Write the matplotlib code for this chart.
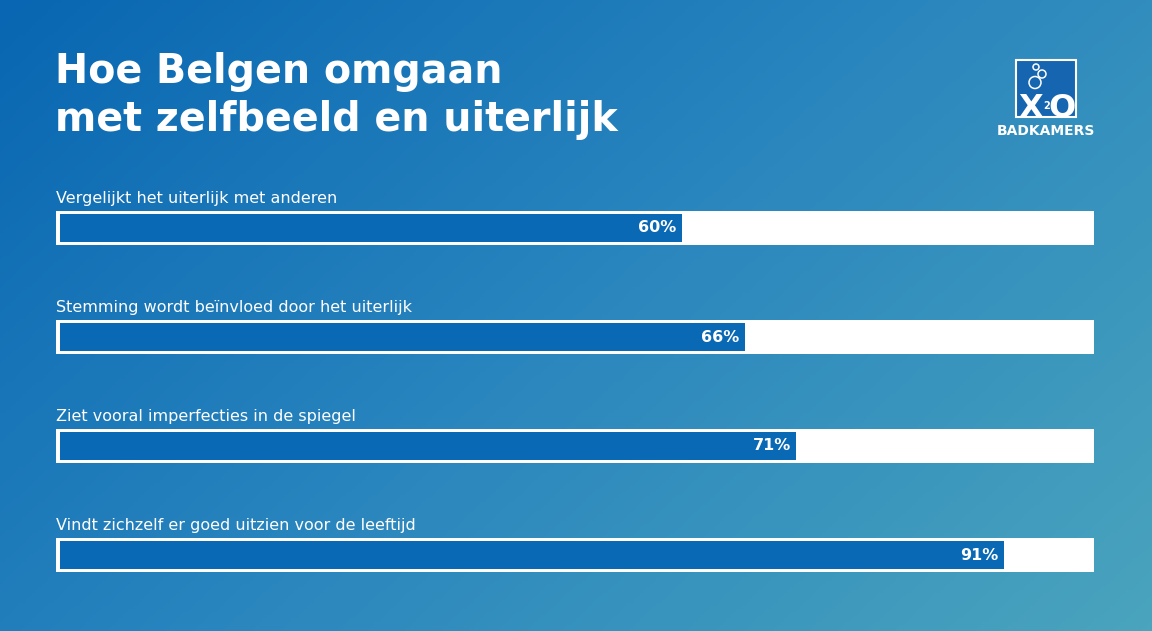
import numpy as np
import matplotlib
matplotlib.use("Agg")
import matplotlib.pyplot as plt
from matplotlib.patches import Rectangle, Circle
from matplotlib.colors import LinearSegmentedColormap

categories = [
    "Vergelijkt het uiterlijk met anderen",
    "Stemming wordt beïnvloed door het uiterlijk",
    "Ziet vooral imperfecties in de spiegel",
    "Vindt zichzelf er goed uitzien voor de leeftijd",
]
values = [60, 66, 71, 91]
value_labels = ["60%", "66%", "71%", "91%"]
title_lines = ["Hoe Belgen omgaan", "met zelfbeeld en uiterlijk"]

W, H = 1152, 631
fig = plt.figure(figsize=(W / 100, H / 100), dpi=100)

# background gradient (axes in pixel units)
bg = fig.add_axes([0, 0, 1, 1])
bg.set_axis_off()
yy, xx = np.mgrid[0:1:200j, 0:1:360j]
t = (xx * 0.62 + yy * 0.38)
cmap = LinearSegmentedColormap.from_list("bg", ["#0866b2", "#2a86be", "#4aa4bd"])
bg.imshow(t, cmap=cmap, aspect="auto", extent=[0, W, H, 0], origin="upper", vmin=0, vmax=1)
bg.set_xlim(0, W)
bg.set_ylim(H, 0)

fam = ["DejaVu Sans"]

for k, line in enumerate(title_lines):
    bg.text(55, 83 + 48 * k, line, color="white", fontsize=28.5,
            fontweight="bold", family=fam, va="baseline", ha="left")

# logo
bg.add_patch(Rectangle((1016, 60), 60, 57, facecolor="#1565b0", edgecolor="white", lw=1.5))
for cx, cy, r in [(1036, 67, 3.0), (1042, 74, 4.0), (1035, 82.5, 6.0)]:
    bg.add_patch(Circle((cx, cy), r, facecolor="none", edgecolor="white", lw=1.1))
bg.text(1031, 117, "X", color="white", fontsize=23, fontweight="bold",
        family=fam, ha="center", va="baseline")
bg.text(1046.5, 109, "2", color="white", fontsize=7, fontweight="bold",
        family=fam, ha="center", va="baseline")
bg.text(1062, 117, "O", color="white", fontsize=23, fontweight="bold",
        family=fam, ha="center", va="baseline")
bg.text(1046, 135, "BADKAMERS", color="white", fontsize=10, fontweight="bold",
        family=fam, ha="center", va="baseline")

# bars
x_px0, x_px1 = 56, 1094
xmin, xmax = -0.39, 99.7
y_top, y_bot = 173.5, 609.5
ax = fig.add_axes([x_px0 / W, 1 - y_bot / H, (x_px1 - x_px0) / W, (y_bot - y_top) / H])
ax.set_facecolor("none")
n = len(values)
pos = np.arange(n)
ax.set_xlim(xmin, xmax)
ax.set_ylim(n - 0.5, -0.5)
ax.set_axis_off()

track_h = 34 / 109
fill_h = 28 / 109
ax.barh(pos, xmax - xmin, left=xmin, height=track_h, color="white", zorder=1)
ax.barh(pos, values, left=0, height=fill_h, color="#0a69b5", zorder=2)

for i, (v, lab, cat) in enumerate(zip(values, value_labels, categories)):
    ax.text(v - 0.55, i, lab, color="white", fontsize=11.5, fontweight="bold",
            family=fam, ha="right", va="center", zorder=3)
    ax.text(xmin, i - track_h / 2 - 8 / 109, cat, color="white", fontsize=11.5,
            family=fam, ha="left", va="baseline", zorder=3)

fig.savefig("out.png", dpi=100)
